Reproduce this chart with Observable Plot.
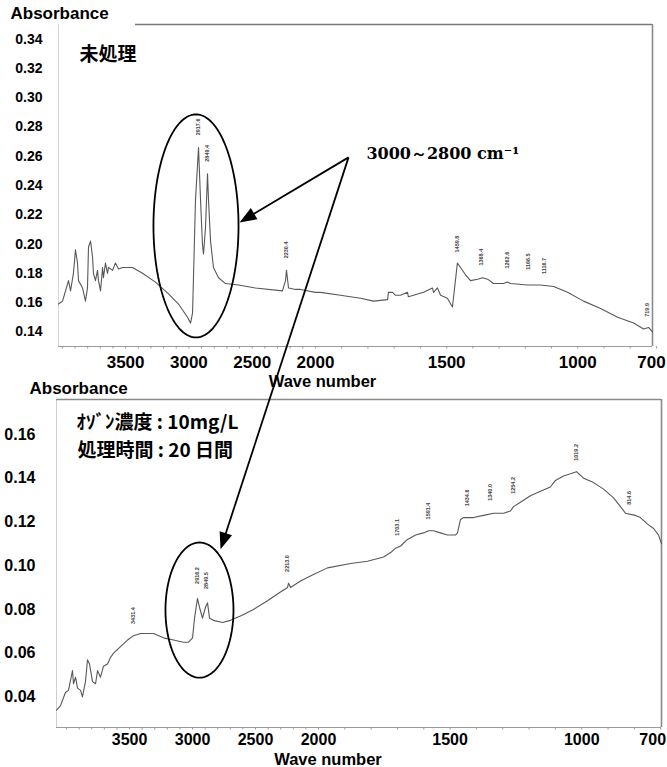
<!DOCTYPE html>
<html><head><meta charset="utf-8">
<script src="https://cdn.jsdelivr.net/npm/d3@7"></script>
<script src="https://cdn.jsdelivr.net/npm/@observablehq/plot@0.6"></script>
<style>
html,body{margin:0;padding:0;background:#fff;}
#chart{position:relative;width:667px;height:767px;overflow:hidden;background:#fff;}
#chart svg{position:absolute;left:0;}
</style></head><body><div id="chart"></div>
<script>
// ---------- data ----------
const topWave = [4030,3998,3951,3935,3912,3896,3880,3872,3840,3817,3801,3793,3777,3761,3754,3738,3722,3714,3698,3682,3675,3659,3643,3635,3603,3580,3556,3524,3446,3366,3264,3161,3082,3011,2987,2971,2948,2924,2908,2893,2885,2869,2853,2845,2829,2806,2766,2711,2608,2474,2261,2237,2229,2213,2158,2118,2000,1981,1905,1828,1779,1725,1722,1706,1695,1676,1649,1646,1626,1588,1554,1550,1535,1523,1497,1478,1474,1459,1447,1428,1409,1382,1363,1344,1321,1283,1268,1256,1192,1142,1092,1039,978,913,848,787,749,730,715];
const topAbs = [0.159,0.161,0.175,0.168,0.180,0.196,0.187,0.175,0.170,0.161,0.170,0.198,0.202,0.191,0.180,0.175,0.182,0.175,0.168,0.184,0.177,0.187,0.180,0.184,0.182,0.187,0.183,0.184,0.184,0.180,0.174,0.166,0.159,0.150,0.146,0.153,0.230,0.266,0.230,0.200,0.193,0.211,0.248,0.230,0.202,0.184,0.177,0.173,0.172,0.170,0.168,0.175,0.182,0.170,0.169,0.169,0.167,0.167,0.165,0.163,0.161,0.162,0.167,0.167,0.165,0.165,0.167,0.164,0.165,0.167,0.170,0.167,0.170,0.165,0.163,0.157,0.163,0.187,0.184,0.179,0.175,0.176,0.177,0.176,0.173,0.173,0.174,0.173,0.172,0.172,0.171,0.167,0.161,0.156,0.150,0.146,0.142,0.143,0.140];

const botWave = [4080,4048,4009,3985,3953,3945,3929,3913,3889,3874,3850,3834,3818,3794,3770,3754,3731,3707,3675,3651,3627,3572,3516,3469,3413,3310,3231,3151,3072,3032,3000,2984,2961,2945,2921,2897,2881,2865,2834,2762,2699,2619,2516,2405,2302,2246,2238,2222,2143,2040,1966,1878,1814,1753,1726,1707,1688,1662,1631,1601,1582,1563,1537,1510,1480,1472,1461,1450,1411,1373,1335,1297,1271,1259,1233,1195,1157,1119,1100,1069,1043,1020,993,955,917,879,853,834,796,777,750,727,708,697];
const botAbs = [0.034,0.036,0.042,0.043,0.052,0.046,0.049,0.044,0.043,0.040,0.047,0.057,0.055,0.047,0.046,0.052,0.049,0.054,0.055,0.058,0.060,0.063,0.066,0.068,0.069,0.069,0.067,0.066,0.065,0.065,0.067,0.076,0.085,0.081,0.076,0.081,0.083,0.076,0.075,0.074,0.075,0.077,0.080,0.084,0.088,0.090,0.092,0.090,0.093,0.096,0.099,0.101,0.102,0.104,0.106,0.108,0.109,0.112,0.114,0.115,0.116,0.116,0.115,0.114,0.114,0.115,0.121,0.122,0.122,0.123,0.124,0.124,0.125,0.127,0.129,0.132,0.134,0.136,0.139,0.141,0.142,0.143,0.140,0.138,0.135,0.131,0.127,0.124,0.123,0.122,0.119,0.117,0.114,0.110];

const topPeakWave = [2924, 2853, 2229, 1459, 1368, 1268, 1188, 1127, 734];
const topPeakAbs  = [0.280, 0.262, 0.196, 0.200, 0.191, 0.189, 0.188, 0.185, 0.155];
const topPeakText = ["2917.6", "2849.4", "2230.4", "1459.8", "1368.4", "1262.6", "1166.5", "1116.7", "719.9"];
const botPeakWave = [3469, 2961, 2889, 2246, 1700, 1582, 1434, 1347, 1259, 1020, 818];
const botPeakAbs  = [0.0772, 0.0955, 0.0932, 0.101, 0.1175, 0.125, 0.131, 0.1335, 0.1367, 0.1518, 0.131];
const botPeakText = ["3431.4", "2916.2", "2849.5", "2213.0", "1703.1", "1591.4", "1434.6", "1340.0", "1254.2", "1019.2", "814.6"];

const xTickValues = [3500, 3000, 2500, 2000, 1500, 1000];
const xEdgeTick = [700];
const topYTicks = [0.14, 0.16, 0.18, 0.20, 0.22, 0.24, 0.26, 0.28, 0.30, 0.32, 0.34];
const botYTicks = [0.04, 0.06, 0.08, 0.10, 0.12, 0.14, 0.16];
const minorTicks = d3.range(4000, 699, -100);

const yLabel = "Absorbance";
const xLabel = "Wave number";
const topTitle = "未処理";
const botTitle = ["ｵｿﾞﾝ濃度 : 10mg/L", "処理時間 : 20 日間"];
const rangeLabel = "3000～2800 cm⁻¹";

// annotations in data units of the top / bottom panels
const topEllipse = [2944, 0.2124, 336, 0.0762];   // cx, cy, rx, ry
const botEllipse = [2945, 0.0797, 270, 0.0309];
const labelAnchor = [1806, 0.2619];
const arrowStart = [1874, 0.2592];
const arrowEndTop = [2600, 0.2148];
const arrowEndBottom = [2750, -0.0086];   // lands on the lower panel's ellipse

// ---------- scales / layout ----------
const W = 667;
const topX = {domain: [4030, 2000, 715], range: [58, 315, 652]};
const topY = {domain: [0.13, 0.35], range: [346, 24]};
const botX = {domain: [4080, 2000, 697], range: [56, 318, 661]};
const botY = {domain: [0.026, 0.176], range: [347, 19]};

const fontSans = "'Liberation Sans', Arial, sans-serif";
const fontCJK = "'Noto Sans CJK JP', sans-serif";
const fmt2 = d3.format(".2f");
const fmtD = d3.format("d");

function ellipsePoints([cx, cy, rx, ry], n = 120) {
  return d3.range(n + 1).map(i => {
    const t = 2 * Math.PI * i / n;
    return {x: cx + rx * Math.cos(t), y: cy + ry * Math.sin(t)};
  });
}
const headSymbol = {draw(ctx) { ctx.moveTo(0, 0); ctx.lineTo(-6.5, 17); ctx.lineTo(6.5, 17); ctx.closePath(); }};

function arrowsFor(sx, sy, start, ends) {
  return ends.map(e => {
    const px1 = sx(start[0]), py1 = sy(start[1]), px2 = sx(e[0]), py2 = sy(e[1]);
    const len = Math.hypot(px2 - px1, py2 - py1);
    const ux = (px2 - px1) / len, uy = (py2 - py1) / len;
    return {
      x1: start[0], y1: start[1], x2: e[0], y2: e[1],
      xb: sx.invert(px2 - ux * 12), yb: sy.invert(py2 - uy * 12),
      rot: Math.atan2(px2 - px1, -(py2 - py1)) * 180 / Math.PI
    };
  });
}

const topSX = d3.scaleLinear(topX.domain, topX.range);
const topSY = d3.scaleLinear(topY.domain, topY.range);
const arrows = arrowsFor(topSX, topSY, arrowStart, [arrowEndTop, arrowEndBottom]);

const topSpec = topWave.map((w, i) => ({w, a: topAbs[i]}));
const botSpec = botWave.map((w, i) => ({w, a: botAbs[i]}));

// ---------- lower panel ----------
const bottomPlot = Plot.plot({
  width: W, height: 387,
  marginTop: 19, marginBottom: 40, marginLeft: 56, marginRight: 6,
  style: {background: "transparent", overflow: "visible", fontFamily: fontSans, color: "#000"},
  x: {type: "linear", domain: botX.domain, range: botX.range},
  y: {type: "linear", domain: botY.domain, range: botY.range},
  marks: [
    Plot.ruleX([botX.domain[0]], {stroke: "#cfcfcf", strokeWidth: 1}),
    Plot.ruleY([botY.domain[1]], {stroke: "#8a8a8a", strokeWidth: 1.4}),
    Plot.ruleX([botX.domain[2]], {stroke: "#8a8a8a", strokeWidth: 1.6}),
    Plot.ruleY([botY.domain[0]], {stroke: "#9a9a9a", strokeWidth: 1.2}),
    Plot.axisX(minorTicks, {tickSize: 2.5, stroke: "#999", tickFormat: () => "", label: null}),
    Plot.axisX(xTickValues, {tickSize: 0, tickPadding: 6, fontSize: 16, fontWeight: "bold", tickFormat: fmtD, label: null}),
    Plot.axisX(xEdgeTick, {tickSize: 0, tickPadding: 6, fontSize: 16, fontWeight: "bold", tickFormat: fmtD, label: null, dx: -8}),
    Plot.axisY(botYTicks, {tickSize: 0, tickPadding: 21, fontSize: 16, fontWeight: "bold", tickFormat: fmt2, label: null}),
    Plot.line(botSpec, {x: "w", y: "a", stroke: "#585858", strokeWidth: 1.1}),
    Plot.text(botPeakText, {x: (d, i) => botPeakWave[i], y: (d, i) => botPeakAbs[i], text: d => d, rotate: -90, fontSize: 5.5, fontWeight: "bold", fill: "#444"}),
    Plot.line(ellipsePoints(botEllipse), {x: "x", y: "y", stroke: "#000", strokeWidth: 1.8}),
    Plot.text([yLabel], {frameAnchor: "top-left", dx: -27, dy: -11, textAnchor: "start", lineAnchor: "middle", fontSize: 17, fontWeight: "bold"}),
    Plot.text([xLabel], {frameAnchor: "bottom", dx: -31, dy: 32, lineAnchor: "middle", fontSize: 16.5, fontWeight: "bold"}),
    Plot.text([botTitle[0]], {frameAnchor: "top-left", dx: 20, dy: 23, textAnchor: "start", lineAnchor: "middle", fontSize: 19, fontWeight: "bold", fontFamily: fontCJK}),
    Plot.text([botTitle[1]], {frameAnchor: "top-left", dx: 21, dy: 51, textAnchor: "start", lineAnchor: "middle", fontSize: 19, fontWeight: "bold", fontFamily: fontCJK})
  ]
});
bottomPlot.style.top = "380px";

// ---------- upper panel ----------
const topPlot = Plot.plot({
  width: W, height: 390,
  marginTop: 24, marginBottom: 44, marginLeft: 58, marginRight: 15,
  style: {background: "transparent", overflow: "visible", fontFamily: fontSans, color: "#000"},
  x: {type: "linear", domain: topX.domain, range: topX.range},
  y: {type: "linear", domain: topY.domain, range: topY.range},
  marks: [
    Plot.ruleX([topX.domain[0]], {stroke: "#d5d5d5", strokeWidth: 1}),
    Plot.ruleY([topY.domain[1]], {x1: 3422, x2: topX.domain[2], stroke: "#7a7a7a", strokeWidth: 1.5}),
    Plot.ruleX([topX.domain[2]], {stroke: "#8a8a8a", strokeWidth: 1.6}),
    Plot.ruleY([topY.domain[0]], {stroke: "#9a9a9a", strokeWidth: 1.2}),
    Plot.axisX(minorTicks, {tickSize: 2.5, stroke: "#999", tickFormat: () => "", label: null}),
    Plot.axisX(xTickValues, {tickSize: 0, tickPadding: 9, fontSize: 17, fontWeight: "bold", tickFormat: fmtD, label: null}),
    Plot.axisX(xEdgeTick, {tickSize: 0, tickPadding: 9, fontSize: 17, fontWeight: "bold", tickFormat: fmtD, label: null, dx: -5}),
    Plot.axisY(topYTicks, {tickSize: 0, tickPadding: 16, fontSize: 14, fontWeight: "bold", tickFormat: fmt2, label: null}),
    Plot.line(topSpec, {x: "w", y: "a", stroke: "#585858", strokeWidth: 1.1}),
    Plot.text(topPeakText, {x: (d, i) => topPeakWave[i], y: (d, i) => topPeakAbs[i], text: d => d, rotate: -90, fontSize: 5.5, fontWeight: "bold", fill: "#444"}),
    Plot.line(ellipsePoints(topEllipse), {x: "x", y: "y", stroke: "#000", strokeWidth: 1.8}),
    Plot.link(arrows, {x1: "x1", y1: "y1", x2: "xb", y2: "yb", stroke: "#000", strokeWidth: 1.8}),
    Plot.dot(arrows, {x: "x2", y: "y2", symbol: headSymbol, rotate: "rot", fill: "#000", stroke: "none"}),
    Plot.text([rangeLabel], {x: labelAnchor[0], y: labelAnchor[1], textAnchor: "start", lineAnchor: "middle", fontSize: 16, fontWeight: "bold", fontFamily: "'DejaVu Serif', serif"}),
    Plot.text([yLabel], {frameAnchor: "top-left", dx: -48, dy: -11, textAnchor: "start", lineAnchor: "middle", fontSize: 17, fontWeight: "bold"}),
    Plot.text([xLabel], {frameAnchor: "bottom", dx: -33, dy: 35, lineAnchor: "middle", fontSize: 16.5, fontWeight: "bold"}),
    Plot.text([topTitle], {frameAnchor: "top-left", dx: 21, dy: 30, textAnchor: "start", lineAnchor: "middle", fontSize: 19, fontWeight: "bold", fontFamily: fontCJK})
  ]
});
topPlot.style.top = "0px";

const chart = document.getElementById("chart");
chart.appendChild(bottomPlot);
chart.appendChild(topPlot);
</script></body></html>
